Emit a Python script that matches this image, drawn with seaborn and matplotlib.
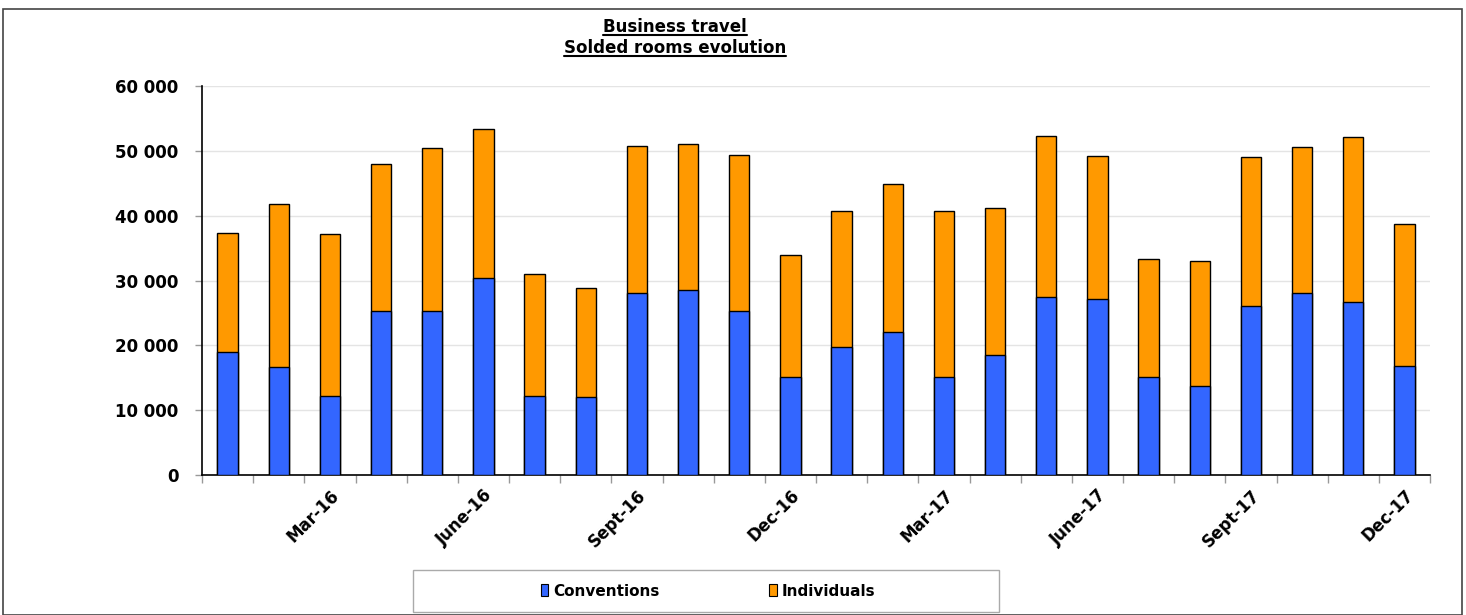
import matplotlib
matplotlib.use("Agg")
import matplotlib.pyplot as plt
import seaborn as sns
import pandas as pd
import numpy as np
from matplotlib.patches import Rectangle
from matplotlib.lines import Line2D
from matplotlib.ticker import FuncFormatter, FixedLocator

months = ["Jan-16", "Feb-16", "Mar-16", "Apr-16", "May-16", "June-16",
          "July-16", "Aug-16", "Sept-16", "Oct-16", "Nov-16", "Dec-16",
          "Jan-17", "Feb-17", "Mar-17", "Apr-17", "May-17", "June-17",
          "July-17", "Aug-17", "Sept-17", "Oct-17", "Nov-17", "Dec-17"]
conventions = [19000, 16650, 12200, 25300, 25300, 30400, 12200, 12050,
               28070, 28530, 25300, 15120, 19740, 22050, 15120, 18500,
               27450, 27150, 15120, 13730, 26070, 28070, 26700, 16800]
totals = [37300, 41800, 37200, 48000, 50400, 53350, 31000, 28850,
          50750, 51050, 49350, 33930, 40720, 44880, 40720, 41180,
          52300, 49200, 33300, 33000, 49050, 50600, 52100, 38700]
individuals = [t - c for t, c in zip(totals, conventions)]
shown_labels = ["Mar-16", "June-16", "Sept-16", "Dec-16",
                "Mar-17", "June-17", "Sept-17", "Dec-17"]

df = pd.DataFrame({"month": months, "Conventions": conventions,
                   "Individuals": individuals})
df["total"] = df["Conventions"] + df["Individuals"]

BLUE = "#3366FF"
ORANGE = "#FF9900"

sns.set_theme(style="white")
plt.rcParams["font.family"] = ["DejaVu Sans"]
plt.rcParams["text.color"] = "black"
plt.rcParams["xtick.color"] = "black"
plt.rcParams["ytick.color"] = "black"
plt.rcParams["axes.labelcolor"] = "black"

W, H = 1466, 615
fig = plt.figure(figsize=(W / 100, H / 100), dpi=100)
ax = fig.add_axes([202 / W, 1 - 475 / H, (1430 - 202) / W, (475 - 86) / H])

sns.barplot(data=df, x="month", y="total", color=ORANGE, width=0.4,
            edgecolor="black", linewidth=1.0, saturation=1, ax=ax, zorder=2)
sns.barplot(data=df, x="month", y="Conventions", color=BLUE, width=0.4,
            edgecolor="black", linewidth=1.0, saturation=1, ax=ax, zorder=3)

ax.set_xlim(-0.5, len(months) - 0.5)
ax.set_ylim(0, 60000)
ax.set_yticks(np.arange(0, 60001, 10000))
ax.yaxis.set_major_formatter(FuncFormatter(lambda v, p: f"{int(v):,}".replace(",", " ")))
ax.grid(axis="y", color="#e4e4e4", linewidth=1, zorder=0)
ax.set_axisbelow(True)
ax.set_xlabel("")
ax.set_ylabel("")

pos = [months.index(m) for m in shown_labels]
ax.xaxis.set_major_locator(FixedLocator(pos))
ax.set_xticklabels(shown_labels, rotation=45, ha="right", rotation_mode="anchor",
                   fontsize=12, fontweight="bold", color="black")
ax.xaxis.set_minor_locator(FixedLocator(np.arange(-0.5, len(months), 1)))
ax.tick_params(axis="x", which="major", length=0, pad=8)
ax.tick_params(axis="x", which="minor", length=6, color="#999999", width=1, direction="out", bottom=True)
ax.tick_params(axis="y", length=5, color="#999999", width=1, direction="out", left=True, pad=12)
for lab in ax.get_yticklabels():
    lab.set_fontsize(12)
    lab.set_fontweight("bold")
    lab.set_color("black")

for s in ["top", "right"]:
    ax.spines[s].set_visible(False)
for s in ["left", "bottom"]:
    ax.spines[s].set_color("black")
    ax.spines[s].set_linewidth(1.2)

# outer frame
fig.patches.append(Rectangle((3 / W, 0), (1462 - 3) / W, (H - 9) / H, transform=fig.transFigure,
                             fill=False, edgecolor="#444444", linewidth=1.2))

# title with underline
renderer = fig.canvas.get_renderer()
for txt, yp in [("Business travel", 27), ("Solded rooms evolution", 48)]:
    t = fig.text(675 / W, 1 - yp / H, txt, ha="center", va="center",
                 fontsize=12, fontweight="bold", color="black")
    bb = t.get_window_extent(renderer=renderer)
    yl = (bb.y0 + 1) / H
    fig.add_artist(Line2D([bb.x0 / W, bb.x1 / W], [yl, yl], transform=fig.transFigure,
                          color="black", linewidth=1.5))

# legend box
fig.patches.append(Rectangle((413 / W, 1 - 612 / H), (999 - 413) / W, 42 / H,
                             transform=fig.transFigure, fill=False,
                             edgecolor="#aaaaaa", linewidth=1))
handles = [Rectangle((0, 0), 1, 1, facecolor=BLUE, edgecolor="black", linewidth=0.8),
           Rectangle((0, 0), 1, 1, facecolor=ORANGE, edgecolor="black", linewidth=0.8)]
fig.legend(handles, ["Conventions", "Individuals"], loc="center",
           bbox_to_anchor=(708 / W, 1 - 591 / H), ncol=2, frameon=False,
           prop={"weight": "bold", "size": 11}, handlelength=0.5, handleheight=0.8,
           handletextpad=0.3, columnspacing=7.2)

fig.savefig("out.png", dpi=100)
